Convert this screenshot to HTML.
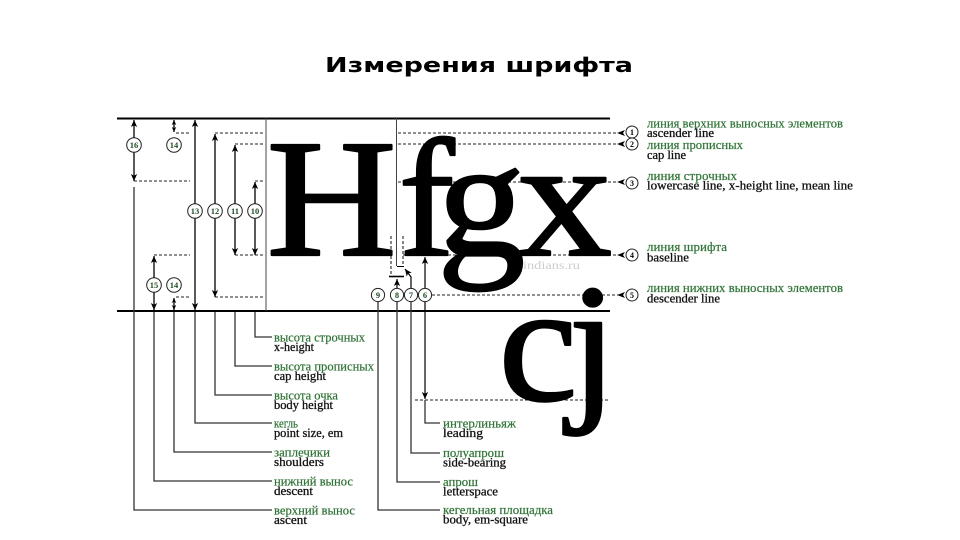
<!DOCTYPE html>
<html><head><meta charset="utf-8"><style>
html,body{margin:0;padding:0;background:#fff;}
svg{display:block;}
</style></head><body>
<svg width="960" height="540" viewBox="0 0 960 540" xmlns="http://www.w3.org/2000/svg">
<defs>
<marker id="a" viewBox="0 0 10 10" refX="10" refY="5" markerWidth="7" markerHeight="7" markerUnits="userSpaceOnUse" orient="auto-start-reverse"><path d="M0,0.5 L10,5 L0,9.5 L2.5,5z" fill="#000"/></marker>
<marker id="s" viewBox="0 0 10 10" refX="10" refY="5" markerWidth="5" markerHeight="5" markerUnits="userSpaceOnUse" orient="auto-start-reverse"><path d="M0,0.5 L10,5 L0,9.5 L2.5,5z" fill="#000"/></marker>
</defs>
<rect width="960" height="540" fill="#fff"/>

<!-- Title -->
<text x="325" y="72" font-family="DejaVu Sans, Liberation Sans, sans-serif" font-weight="bold" font-size="20" textLength="308" lengthAdjust="spacingAndGlyphs" fill="#000">Измерения шрифта</text>

<!-- dashed guide lines -->
<g stroke="#222" stroke-width="1.1" stroke-dasharray="3 2" fill="none">
<line x1="134" y1="181" x2="190" y2="181"/>
<line x1="176" y1="133" x2="190" y2="133"/>
<line x1="215" y1="133" x2="265" y2="133"/>
<line x1="235" y1="144" x2="265" y2="144"/>
<line x1="255" y1="181" x2="265" y2="181"/>
<line x1="154" y1="255" x2="190" y2="255"/>
<line x1="235" y1="255" x2="265" y2="255"/>
<line x1="176" y1="297" x2="190" y2="297"/>
<line x1="215" y1="297" x2="265" y2="297"/>
<line x1="398" y1="133" x2="618" y2="133"/>
<line x1="398" y1="144" x2="618" y2="144"/>
<line x1="398" y1="182" x2="618" y2="182"/>
<line x1="403" y1="255" x2="618" y2="255"/>
<line x1="432" y1="295" x2="618" y2="295"/>
<line x1="415" y1="400" x2="610" y2="400"/>
<line x1="391" y1="236" x2="391" y2="276"/>
<line x1="403" y1="236" x2="403" y2="266"/>
</g>

<!-- big glyphs -->
<g font-family="Liberation Serif, serif" font-size="168" fill="#000" stroke="#000" stroke-width="2.2" stroke-linejoin="round">
<text transform="translate(266.6,255) scale(1.072,1)">H</text>
<text transform="translate(398.6,255)">f</text>
<text transform="translate(437.1,255) scale(1.05,1)">g</text>
<text transform="translate(516.8,255) scale(1.134,1)">x</text>
<text transform="translate(498.5,400) scale(1.06,1)">c</text>
<text transform="translate(568.4,400) scale(1.04,1)">j</text>
</g>
<text x="523" y="269" font-family="Liberation Serif, serif" font-size="12" fill="#cdcdcd" textLength="57" lengthAdjust="spacingAndGlyphs">indians.ru</text>

<!-- main solid lines -->
<line x1="117" y1="118.5" x2="610" y2="118.5" stroke="#000" stroke-width="2"/>
<line x1="117" y1="311" x2="610" y2="311" stroke="#000" stroke-width="2"/>
<line x1="266" y1="118" x2="266" y2="311" stroke="#444" stroke-width="1"/>
<line x1="396.5" y1="118" x2="396.5" y2="266" stroke="#444" stroke-width="1"/>

<!-- small structure near H/f -->
<g stroke="#000" fill="none">
<line x1="389" y1="276.5" x2="404" y2="276.5" stroke-width="1.6"/>
<line x1="397" y1="266.5" x2="404" y2="266.5" stroke-width="1"/>
<line x1="397" y1="288" x2="397" y2="279" stroke-width="1.2" marker-end="url(#a)"/>
<polyline points="411,288 411,277 405,269" stroke-width="1.2" marker-end="url(#a)"/>
<line x1="425" y1="288" x2="425" y2="257" stroke-width="1.2" marker-end="url(#a)"/>
<line x1="425" y1="302" x2="425" y2="399" stroke-width="1.2" marker-end="url(#a)"/>
</g>

<!-- left measurement arrows -->
<g stroke="#000" stroke-width="1.3" fill="none">
<line x1="134" y1="120" x2="134" y2="181" marker-start="url(#a)" marker-end="url(#a)"/>
<line x1="174" y1="120" x2="174" y2="132" marker-start="url(#s)" marker-end="url(#s)"/>
<line x1="195" y1="120" x2="195" y2="310" marker-start="url(#a)" marker-end="url(#a)"/>
<line x1="215" y1="134" x2="215" y2="297" marker-start="url(#a)" marker-end="url(#a)"/>
<line x1="235" y1="145" x2="235" y2="255" marker-start="url(#a)" marker-end="url(#a)"/>
<line x1="255" y1="182" x2="255" y2="255" marker-start="url(#a)" marker-end="url(#a)"/>
<line x1="154" y1="256" x2="154" y2="310" marker-start="url(#a)" marker-end="url(#a)"/>
<line x1="174" y1="298" x2="174" y2="310" marker-start="url(#s)" marker-end="url(#s)"/>
</g>

<!-- bracket leader lines -->
<g stroke="#333" stroke-width="1.3" fill="none">
<path d="M255,312 V337 H272"/>
<path d="M235,312 V366 H272"/>
<path d="M215,312 V395 H272"/>
<path d="M195,312 V423 H272"/>
<path d="M174,312 V452 H272"/>
<path d="M154,312 V481 H272"/>
<path d="M134,187 V510 H272"/>
<path d="M378,302 V510 H440"/>
<path d="M397,302 V482 H440"/>
<path d="M411,302 V453 H440"/>
<path d="M425,400 V423 H440"/>
</g>

<!-- right arrowheads -->
<g fill="#000">
<polygon points="617,133 625,130 623,133 625,136"/>
<polygon points="617,144 625,141 623,144 625,147"/>
<polygon points="617,182 625,179 623,182 625,185"/>
<polygon points="617,255 625,252 623,255 625,258"/>
<polygon points="617,295 625,292 623,295 625,298"/>
</g>

<!-- circles -->
<g stroke="#222" stroke-width="1" fill="#fff">
<circle cx="134" cy="145" r="7.3"/>
<circle cx="174" cy="145" r="7.3"/>
<circle cx="195" cy="211" r="7.3"/>
<circle cx="215" cy="211" r="7.3"/>
<circle cx="235" cy="211" r="7.3"/>
<circle cx="255" cy="211" r="7.3"/>
<circle cx="154" cy="285" r="7.3"/>
<circle cx="174" cy="285" r="7.3"/>
<circle cx="378" cy="295" r="6.6"/>
<circle cx="397" cy="295" r="6.6"/>
<circle cx="411" cy="295" r="6.6"/>
<circle cx="425" cy="295" r="6.6"/>
<circle cx="632" cy="132" r="6"/>
<circle cx="632" cy="144" r="6"/>
<circle cx="632" cy="183" r="6"/>
<circle cx="632" cy="255" r="6"/>
<circle cx="632" cy="295" r="6"/>
</g>
<g font-family="Liberation Serif, serif" font-weight="bold" font-size="8.5" fill="#1e4d24" text-anchor="middle">
<text x="134" y="148">16</text>
<text x="174" y="148">14</text>
<text x="195" y="214">13</text>
<text x="215" y="214">12</text>
<text x="235" y="214">11</text>
<text x="255" y="214">10</text>
<text x="154" y="288">15</text>
<text x="174" y="288">14</text>
<text x="378" y="298">9</text>
<text x="397" y="298">8</text>
<text x="411" y="298">7</text>
<text x="425" y="298">6</text>
</g>
<g font-family="Liberation Serif, serif" font-weight="bold" font-size="8" fill="#000" text-anchor="middle">
<text x="632" y="135">1</text>
<text x="632" y="147">2</text>
<text x="632" y="186">3</text>
<text x="632" y="258">4</text>
<text x="632" y="298">5</text>
</g>

<!-- labels -->
<g font-family="Liberation Serif, serif" font-size="12.5">
<g fill="#2f7336" stroke="#2f7336" stroke-width="0.2">
<text x="647" y="127.5" textLength="196" lengthAdjust="spacingAndGlyphs">линия верхних выносных элементов</text>
<text x="647" y="149" textLength="96" lengthAdjust="spacingAndGlyphs">линия прописных</text>
<text x="647" y="180" textLength="90" lengthAdjust="spacingAndGlyphs">линия строчных</text>
<text x="647" y="251" textLength="80" lengthAdjust="spacingAndGlyphs">линия шрифта</text>
<text x="647" y="292" textLength="196" lengthAdjust="spacingAndGlyphs">линия нижних выносных элементов</text>
<text x="274" y="341.5" textLength="91" lengthAdjust="spacingAndGlyphs">высота строчных</text>
<text x="274" y="370.5" textLength="100" lengthAdjust="spacingAndGlyphs">высота прописных</text>
<text x="274" y="399.5" textLength="64" lengthAdjust="spacingAndGlyphs">высота очка</text>
<text x="274" y="427.5" textLength="24" lengthAdjust="spacingAndGlyphs">кегль</text>
<text x="274" y="456.5" textLength="56" lengthAdjust="spacingAndGlyphs">заплечики</text>
<text x="274" y="485.5" textLength="79" lengthAdjust="spacingAndGlyphs">нижний вынос</text>
<text x="274" y="514.5" textLength="81" lengthAdjust="spacingAndGlyphs">верхний вынос</text>
<text x="443" y="427.5" textLength="73" lengthAdjust="spacingAndGlyphs">интерлиньяж</text>
<text x="443" y="457" textLength="61" lengthAdjust="spacingAndGlyphs">полуапрош</text>
<text x="443" y="486" textLength="35" lengthAdjust="spacingAndGlyphs">апрош</text>
<text x="443" y="514" textLength="110" lengthAdjust="spacingAndGlyphs">кегельная площадка</text>
</g>
<g fill="#111" stroke="#111" stroke-width="0.3">
<text x="647" y="137" textLength="67" lengthAdjust="spacingAndGlyphs">ascender line</text>
<text x="647" y="159" textLength="39" lengthAdjust="spacingAndGlyphs">cap line</text>
<text x="647" y="189.5" textLength="206" lengthAdjust="spacingAndGlyphs">lowercase line, x-height line, mean line</text>
<text x="647" y="261.5" textLength="42" lengthAdjust="spacingAndGlyphs">baseline</text>
<text x="647" y="302.5" textLength="73" lengthAdjust="spacingAndGlyphs">descender line</text>
<text x="274" y="351" textLength="40" lengthAdjust="spacingAndGlyphs">x-height</text>
<text x="274" y="380" textLength="52" lengthAdjust="spacingAndGlyphs">cap height</text>
<text x="274" y="409" textLength="59" lengthAdjust="spacingAndGlyphs">body height</text>
<text x="274" y="437" textLength="69" lengthAdjust="spacingAndGlyphs">point size, em</text>
<text x="274" y="466" textLength="50" lengthAdjust="spacingAndGlyphs">shoulders</text>
<text x="274" y="495" textLength="39" lengthAdjust="spacingAndGlyphs">descent</text>
<text x="274" y="524" textLength="33" lengthAdjust="spacingAndGlyphs">ascent</text>
<text x="443" y="437" textLength="40" lengthAdjust="spacingAndGlyphs">leading</text>
<text x="443" y="466.5" textLength="63" lengthAdjust="spacingAndGlyphs">side-bearing</text>
<text x="443" y="495.5" textLength="55" lengthAdjust="spacingAndGlyphs">letterspace</text>
<text x="443" y="523.5" textLength="85" lengthAdjust="spacingAndGlyphs">body, em-square</text>
</g>
</g>
</svg>
</body></html>
